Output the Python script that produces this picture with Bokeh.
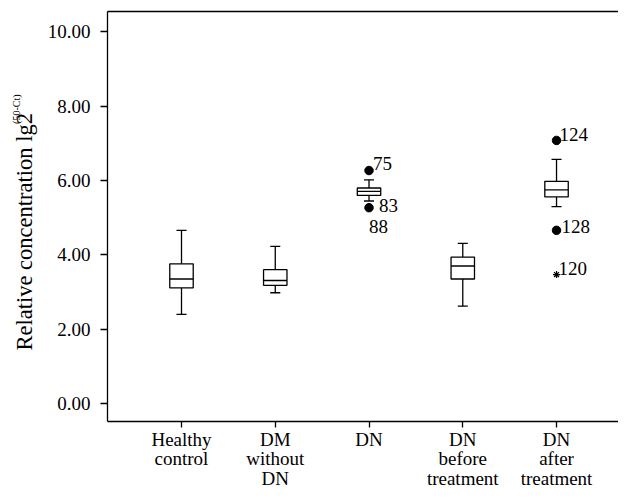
from bokeh.plotting import figure
from bokeh.models import (FixedTicker, LinearAxis, Title, PrintfTickFormatter, Range1d)
from bokeh.core.properties import value
from bokeh.embed import file_html
from bokeh.resources import INLINE

# ---- data ----
groups = ["Healthy\ncontrol", "DM\nwithout\nDN", "DN", "DN\nbefore\ntreatment", "DN\nafter\ntreatment"]
lower_whisker = [2.40, 2.98, 5.45, 2.62, 5.30]
q1 = [3.11, 3.18, 5.60, 3.35, 5.56]
median = [3.35, 3.31, 5.71, 3.70, 5.75]
q3 = [3.76, 3.60, 5.80, 3.94, 5.98]
upper_whisker = [4.66, 4.23, 6.02, 4.31, 6.57]

outlier_group = [3, 3, 5, 5]
outlier_value = [6.27, 5.27, 7.08, 4.66]
outlier_label = ["75", "88", "124", "128"]

hidden_group = [3]
hidden_value = [5.62]
hidden_label = ["83"]

extreme_group = [5]
extreme_value = [3.47]
extreme_label = ["120"]

y_ticks = [0, 2, 4, 6, 8, 10]
y_title = "Relative concentration lg2"
y_title_sup = "(50-Ct)"

FONT = "Liberation Serif"
pos = list(range(1, len(groups) + 1))

p = figure(width=618, height=494, output_backend="svg", toolbar_location=None,
           x_range=Range1d(0.2107, 5.661), y_range=Range1d(-0.485, 10.55),
           min_border_left=107, min_border_right=0, min_border_top=11,
           min_border_bottom=73)
p.outline_line_color = None
p.grid.grid_line_color = None
p.background_fill_color = "white"

# axes
xa = p.xaxis[0]
xa.ticker = FixedTicker(ticks=pos)
xa.major_label_overrides = {i: g for i, g in zip(pos, groups)}
xa.minor_tick_line_color = None
xa.major_tick_in = 0
xa.major_tick_out = 6
xa.major_label_standoff = 1
xa.major_label_text_font = FONT
xa.major_label_text_font_size = "19px"
xa.major_label_text_line_height = 0.95
xa.major_label_text_color = "black"
xa.axis_line_width = 1.3
xa.major_tick_line_width = 1.3

ya = p.yaxis[0]
ya.ticker = FixedTicker(ticks=y_ticks)
ya.formatter = PrintfTickFormatter(format="%.2f")
ya.minor_tick_line_color = None
ya.major_tick_in = 0
ya.major_tick_out = 7
ya.major_label_standoff = 10
ya.major_label_text_font = FONT
ya.major_label_text_font_size = "19px"
ya.major_label_text_color = "black"
ya.axis_line_width = 1.3
ya.major_tick_line_width = 1.3

top = LinearAxis(major_tick_line_color=None, minor_tick_line_color=None,
                 major_label_text_font_size="0px", axis_line_width=1.3,
                 major_label_standoff=0)
top.ticker = FixedTicker(ticks=[])
p.add_layout(top, "above")

# y axis title with superscript (rotated side titles)
p.add_layout(Title(text=y_title, align="left", offset=71, standoff=16,
                   text_font=FONT, text_font_size="22.5px", text_font_style="normal",
                   text_color="black"), "left")
p.add_layout(Title(text=y_title_sup, align="right", offset=83, standoff=-40,
                   text_font=FONT, text_font_size="10px", text_font_style="normal",
                   text_color="black"), "left")

# whiskers
p.segment(x0=pos, y0=upper_whisker, x1=pos, y1=q3, line_color="black", line_width=1.3)
p.segment(x0=pos, y0=lower_whisker, x1=pos, y1=q1, line_color="black", line_width=1.3)
cap = 0.107
p.segment(x0=[x - cap / 2 for x in pos], y0=upper_whisker,
          x1=[x + cap / 2 for x in pos], y1=upper_whisker, line_color="black", line_width=1.3)
p.segment(x0=[x - cap / 2 for x in pos], y0=lower_whisker,
          x1=[x + cap / 2 for x in pos], y1=lower_whisker, line_color="black", line_width=1.3)

# boxes
bw = 0.25
p.vbar(x=pos, width=bw, bottom=q1, top=q3, fill_color="white",
       line_color="black", line_width=1.3)
p.segment(x0=[x - bw / 2 for x in pos], y0=median, x1=[x + bw / 2 for x in pos],
          y1=median, line_color="black", line_width=1.3)

# outliers
p.scatter(x=outlier_group, y=outlier_value, size=8.5, marker="circle",
          fill_color="black", line_color="black")
p.scatter(x=extreme_group, y=extreme_value, size=7, marker="asterisk",
          line_color="black", line_width=1.2)

# outlier labels
xo = [4, 0, 3, 5]
yo = [-7, 19, -6, -4]
p.text(x=outlier_group, y=outlier_value, text=outlier_label,
       x_offset=xo, y_offset=yo, text_font=value(FONT),
       text_font_size="19px", text_baseline="alphabetic", text_color="black")
p.text(x=hidden_group, y=hidden_value, text=hidden_label,
       x_offset=10, y_offset=11, text_font=value(FONT),
       text_font_size="19px", text_baseline="alphabetic", text_color="black")
p.text(x=extreme_group, y=extreme_value, text=extreme_label,
       x_offset=2, y_offset=-6, text_font=value(FONT),
       text_font_size="19px", text_baseline="alphabetic", text_color="black")

open("out.html", "w").write(file_html(p, INLINE))
